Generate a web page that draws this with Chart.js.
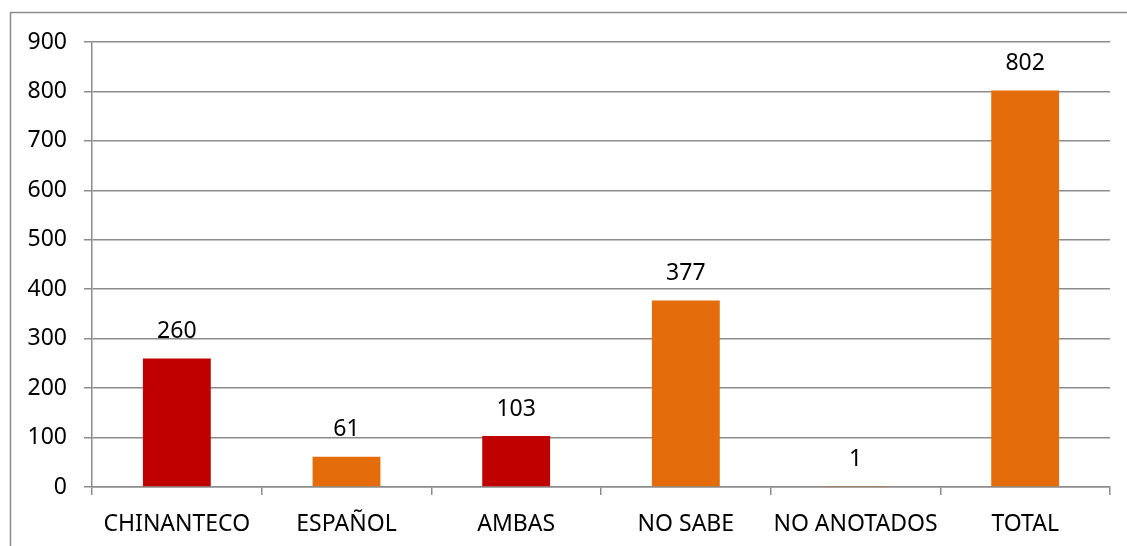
<!DOCTYPE html>
<html>
<head>
<meta charset="utf-8">
<script src="https://cdn.jsdelivr.net/npm/chart.js@4"></script>
<style>
  html, body { margin: 0; padding: 0; background: #fff; overflow: hidden; }
  #wrap { position: relative; width: 1127px; height: 546px; }
</style>
</head>
<body>
<div id="wrap"><canvas id="barchart" width="1127" height="546"></canvas></div>
<script>
// chart data
var categories = ['CHINANTECO', 'ESPAÑOL', 'AMBAS', 'NO SABE', 'NO ANOTADOS', 'TOTAL'];
var values = [260, 61, 103, 377, 1, 802];
var barColors = ['#C00000', '#E46C0A', '#C00000', '#E46C0A', '#E46C0A', '#E46C0A'];
var yTicks = [0, 100, 200, 300, 400, 500, 600, 700, 800, 900];

var FONT = "'Noto Sans', 'Liberation Sans', sans-serif";
var FONT_SIZE = 23;
var GRID = '#8c8c8c';

// outer frame (only top and left edges show in the picture)
var framePlugin = {
  id: 'frame',
  afterDraw: function(chart) {
    var c = chart.ctx;
    c.save();
    c.strokeStyle = GRID;
    c.lineWidth = 1.5;
    c.beginPath();
    c.moveTo(10.5, chart.height + 5);
    c.lineTo(10.5, 12.5);
    c.lineTo(chart.width + 5, 12.5);
    c.stroke();
    c.restore();
  }
};

// value labels above the bars
var valueLabels = {
  id: 'valueLabels',
  afterDatasetsDraw: function(chart) {
    var c = chart.ctx;
    var meta = chart.getDatasetMeta(0);
    c.save();
    c.font = FONT_SIZE + 'px ' + FONT;
    c.fillStyle = '#000';
    c.textAlign = 'center';
    c.textBaseline = 'middle';
    meta.data.forEach(function(bar, i) {
      c.fillText(String(values[i]), bar.x, bar.y - 27);
    });
    c.restore();
  }
};

(function() {
  var ctx = document.getElementById('barchart').getContext('2d');
  new Chart(ctx, {
    type: 'bar',
    data: {
      labels: categories,
      datasets: [{
        data: values,
        backgroundColor: barColors,
        borderWidth: 0,
        barPercentage: 0.4,
        categoryPercentage: 1.0
      }]
    },
    options: {
      responsive: false,
      animation: false,
      layout: { padding: { left: 27, right: 17, top: 42, bottom: 8 } },
      plugins: {
        legend: { display: false },
        tooltip: { enabled: false }
      },
      scales: {
        x: {
          offset: true,
          afterFit: function(axis) { axis.height = 51; },
          grid: {
            offset: true,
            drawOnChartArea: false,
            drawTicks: true,
            tickLength: 8,
            color: GRID,
            lineWidth: 1.5
          },
          border: { display: true, color: GRID, width: 1.5 },
          ticks: {
            color: '#000',
            padding: 16,
            maxRotation: 0,
            font: { family: FONT, size: FONT_SIZE }
          }
        },
        y: {
          min: 0,
          max: 900,
          afterFit: function(axis) { axis.width = 65; },
          afterBuildTicks: function(axis) {
            axis.ticks = yTicks.map(function(v) { return { value: v }; });
          },
          grid: {
            color: GRID,
            lineWidth: 1.5,
            drawTicks: true,
            tickLength: 8
          },
          border: { display: true, color: GRID, width: 1.5 },
          ticks: {
            color: '#000',
            padding: 17,
            font: { family: FONT, size: FONT_SIZE }
          }
        }
      }
    },
    plugins: [framePlugin, valueLabels]
  });
})();
</script>
</body>
</html>
